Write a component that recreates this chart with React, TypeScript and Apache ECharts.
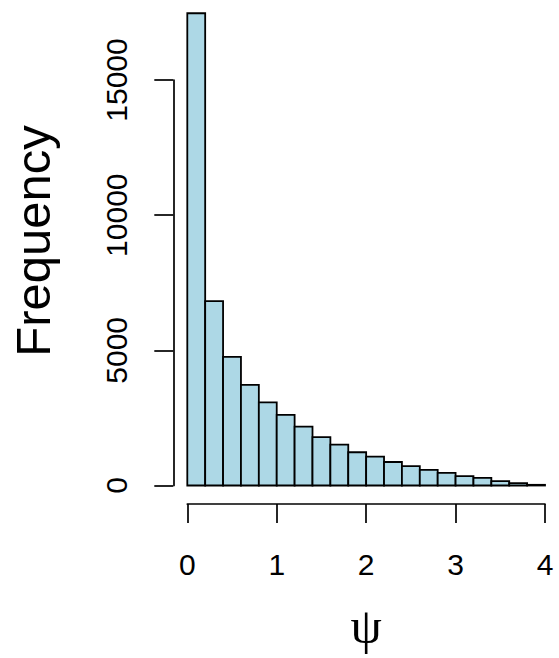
import React, { useEffect, useRef } from "react";
import * as echarts from "echarts";

const binStarts = [0, 0.2, 0.4, 0.6, 0.8, 1.0, 1.2, 1.4, 1.6, 1.8, 2.0, 2.2, 2.4, 2.6, 2.8, 3.0, 3.2, 3.4, 3.6, 3.8];
const binEnds = [0.2, 0.4, 0.6, 0.8, 1.0, 1.2, 1.4, 1.6, 1.8, 2.0, 2.2, 2.4, 2.6, 2.8, 3.0, 3.2, 3.4, 3.6, 3.8, 4.0];
const counts = [17470, 6820, 4760, 3725, 3075, 2615, 2175, 1790, 1510, 1230, 1070, 870, 720, 575, 465, 350, 280, 165, 90, 25];
const xTicks = [0, 1, 2, 3, 4];
const yTicks = [0, 5000, 10000, 15000];
const xTitle = "ψ";
const yTitle = "Frequency";

export default function App() {
  const ref = useRef<HTMLDivElement>(null);
  useEffect(() => {
    if (!ref.current) return;
    const chart = echarts.init(ref.current, null, { renderer: "svg" });
    const data = binStarts.map((s, i) => [s, binEnds[i], counts[i]]);
    const font = "'Liberation Sans', Arial, Helvetica, sans-serif";
    chart.setOption({
      animation: false,
      backgroundColor: "#ffffff",
      grid: { left: 187.3, right: 14, top: 80, bottom: 172.5, containLabel: false },
      xAxis: {
        type: "value",
        min: xTicks[0],
        max: xTicks[xTicks.length - 1],
        interval: 1,
        offset: 18.5,
        axisLine: { show: true, onZero: false, lineStyle: { color: "#000", width: 1.7 } },
        axisTick: { show: true, inside: false, length: 19, lineStyle: { color: "#000", width: 1.7 } },
        axisLabel: { show: true, margin: 45, color: "#000", fontSize: 30, fontFamily: font, formatter: (v: number) => String(v) },
        splitLine: { show: false },
        name: xTitle,
        nameLocation: "middle",
        nameGap: 97,
        nameTextStyle: { fontSize: 50, color: "#000", fontFamily: "'Liberation Serif', 'DejaVu Serif', serif" },
      },
      yAxis: {
        type: "value",
        min: yTicks[0],
        max: yTicks[yTicks.length - 1],
        interval: 5000,
        offset: 14,
        axisLine: { show: true, onZero: false, lineStyle: { color: "#000", width: 1.7 } },
        axisTick: { show: true, inside: false, length: 19, lineStyle: { color: "#000", width: 1.7 } },
        axisLabel: { show: true, rotate: 90, margin: 42, color: "#000", fontSize: 30, fontFamily: font, formatter: (v: number) => String(v) },
        splitLine: { show: false },
      },
      graphic: [
        {
          type: "text",
          x: 33,
          y: 241,
          rotation: Math.PI / 2,
          style: {
            text: yTitle,
            fontSize: 49,
            fontFamily: font,
            fill: "#000",
            textAlign: "center",
            textVerticalAlign: "middle",
          },
        },
      ],
      series: [
        {
          type: "custom",
          clip: false,
          data,
          encode: { x: [0, 1], y: 2 },
          renderItem: (params: any, api: any) => {
            const x0 = api.value(0);
            const x1 = api.value(1);
            const y = api.value(2);
            const p0 = api.coord([x0, y]);
            const p1 = api.coord([x1, 0]);
            return {
              type: "rect",
              shape: { x: p0[0], y: p0[1], width: p1[0] - p0[0], height: p1[1] - p0[1] },
              style: { fill: "#ADD8E6", stroke: "#000", lineWidth: 1.8 },
            };
          },
        },
      ],
    });
    return () => chart.dispose();
  }, []);
  return (
    <div
      ref={ref}
      style={{ position: "fixed", left: 0, top: 0, width: 559, height: 658, background: "#fff" }}
    />
  );
}
